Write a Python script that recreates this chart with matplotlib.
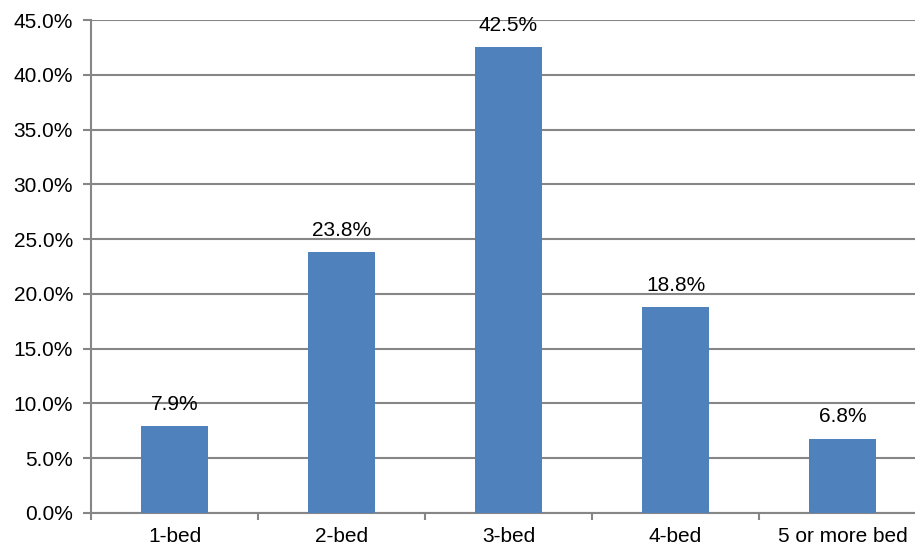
import numpy as np
import matplotlib.pyplot as plt
from matplotlib.ticker import FixedLocator

categories = ["1-bed", "2-bed", "3-bed", "4-bed", "5 or more bed"]
shares = [7.9, 23.8, 42.5, 18.8, 6.8]
y_ticks = [0, 5, 10, 15, 20, 25, 30, 35, 40, 45]

plt.rcParams['font.family'] = ['Liberation Sans', 'DejaVu Sans']
fs = 15

fig = plt.figure(figsize=(9.15, 5.48), dpi=100)
W, H = 915, 548
left, right, top, bottom = 91, 926, 20, 513
ax = fig.add_axes([left / W, (H - bottom) / H, (right - left) / W, (bottom - top) / H])

grid_col = '#868686'
x = np.arange(len(categories))
ax.bar(x, shares, width=0.4, color='#4F81BD', zorder=3)

for xi, v in zip(x, shares):
    ax.annotate(f"{v:.1f}%", (xi, v), xytext=(0, 9), textcoords='offset points',
                ha='center', va='bottom', fontsize=fs)

ax.set_xlim(-0.5, len(categories) - 0.5)
ax.set_ylim(0, 45)
ax.set_yticks(y_ticks)
ax.set_yticklabels([f"{t:.1f}%" for t in y_ticks], fontsize=fs)
ax.yaxis.grid(True, color=grid_col, linewidth=1.5, zorder=0)

# category labels without ticks, tick marks at the boundaries
ax.set_xticks(x)
ax.set_xticklabels(categories, fontsize=fs)
ax.tick_params(axis='x', which='major', length=0, pad=10)
ax.xaxis.set_minor_locator(FixedLocator(np.arange(-0.5, len(categories), 1.0)))
ax.tick_params(axis='x', which='minor', length=5, width=1.5, color=grid_col)
ax.tick_params(axis='y', length=6, width=1.5, color=grid_col, pad=7)

for s in ['top', 'right']:
    ax.spines[s].set_visible(False)
for s in ['left', 'bottom']:
    ax.spines[s].set_color(grid_col)
    ax.spines[s].set_linewidth(1.5)

fig.savefig("out.png", dpi=100)
